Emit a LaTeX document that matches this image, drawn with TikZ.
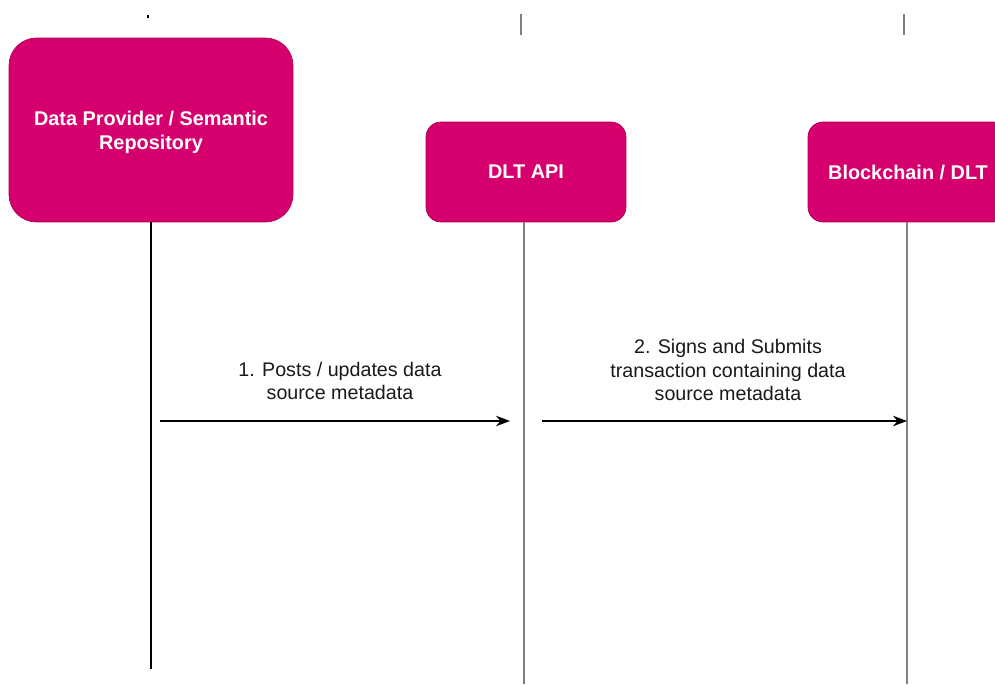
\documentclass[tikz,border=0pt]{standalone}
\usepackage{fontspec}
\setmainfont{Liberation Sans}
\usetikzlibrary{arrows.meta}

\definecolor{actorpink}{HTML}{D5006D}
\definecolor{lifegray}{HTML}{808080}

\begin{document}
\begin{tikzpicture}[x=0.02cm, y=-0.02cm, >={Stealth[length=8pt,width=6pt]},
    actor/.style={draw=actorpink!80!black, fill=actorpink, text=white,
      font=\fontsize{11.3}{13.6}\selectfont\bfseries, align=center, inner sep=0pt},
    msg/.style={font=\fontsize{11.2}{13.6}\selectfont, text=black!90, align=center}]
  \useasboundingbox (0,0) rectangle (995,684);

	% bits of the frame above
	\draw[black, line width=0.6pt] (148,15) -- (148,18);
	\draw[lifegray, line width=1.6pt] (521,14) -- (521,35);
	\draw[lifegray, line width=1.6pt] (904,14) -- (904,35);

	% participants
	\node[actor, rounded corners=0.55cm, minimum width=5.68cm, minimum height=3.68cm]
	  (provider) at (151,130) {};
	\node[actor, draw=none, fill=none] (providerlabel) at (151,132) {Data Provider / Semantic\\Repository};
	\node[actor, rounded corners=0.3cm, minimum width=4cm, minimum height=2cm]
	  (api) at (526,172) {DLT API};
	\node[actor, rounded corners=0.3cm, minimum width=4cm, minimum height=2cm]
	  (chain) at (908,172) {};
	\node[actor, draw=none, fill=none] (chainlabel) at (908,172) {Blockchain / DLT};

	% lifelines
	\coordinate (providerend) at (151,669);
	\coordinate (apiend) at (524,684);
	\coordinate (chainend) at (907,684);
	\draw[black, line width=1.1pt] (provider.south -| providerend) -- (providerend);
	\draw[lifegray, line width=1.2pt] (api.south -| apiend) -- (apiend);
	\draw[lifegray, line width=1.2pt] (chain.south -| chainend) -- (chainend);

	% messages
	\coordinate (post) at (160,421);
	\coordinate (postend) at (510,421);
	\coordinate (sign) at (542,421);
	\coordinate (signend) at (907,421);
	\draw[->, line width=0.9pt] (post) -- (postend);
	\draw[->, line width=0.9pt] (sign) -- (signend);
	\node[msg] (postlabel) at (340,381) {1. Posts / updates data\\source metadata};
	\node[msg] (signlabel) at (728,370) {2. Signs and Submits\\transaction containing data\\source metadata};
      \end{tikzpicture}
\end{document}
